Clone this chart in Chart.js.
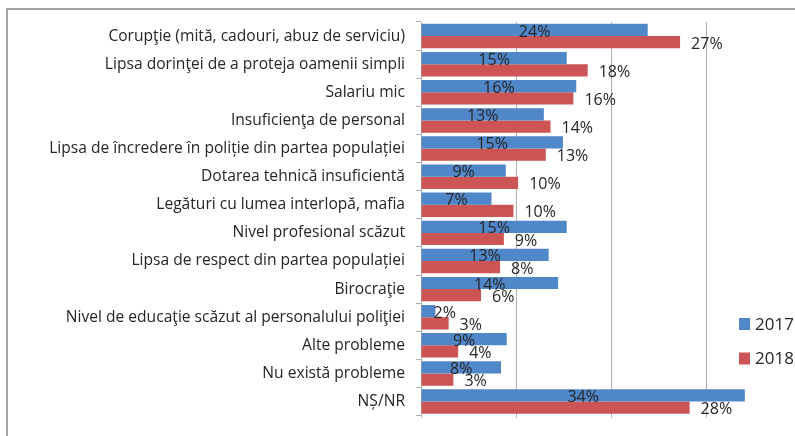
<!DOCTYPE html>
<html>
<head>
<meta charset="utf-8">
<script src="https://cdn.jsdelivr.net/npm/chart.js@4.4.0/dist/chart.umd.min.js"></script>
<style>
  html, body { margin: 0; padding: 0; background: #fff; overflow: hidden; }
  #wrap { position: relative; width: 795px; height: 436px; overflow: hidden; }
  #frame { position: absolute; left: 6px; top: 8px; width: 820px; height: 460px;
           border-left: 2px solid #a3a3a3; border-top: 2px solid #a3a3a3; }
  #chart { position: absolute; left: 0; top: 0; }
</style>
</head>
<body>
<div id="wrap">
  <div id="frame"></div>
  <canvas id="chart" width="810" height="436"></canvas>
</div>
<script>
// data (bar lengths in %, labels shown rounded)
const categories = [
    'Corupţie (mită, cadouri, abuz de serviciu)',
    'Lipsa dorinţei de a proteja oamenii simpli',
    'Salariu mic',
    'Insuficienţa de personal',
    'Lipsa de încredere în poliție din partea populației',
    'Dotarea tehnică insuficientă',
    'Legături cu lumea interlopă, mafia',
    'Nivel profesional scăzut',
    'Lipsa de respect din partea populației',
    'Birocraţie',
    'Nivel de educaţie scăzut al personalului poliţiei',
    'Alte probleme',
    'Nu există probleme',
    'NȘ/NR'
];
const values2017 = [23.8, 15.3, 16.3, 12.9, 14.9, 8.9, 7.4, 15.3, 13.4, 14.4, 1.5, 9.0, 8.4, 34.0];
const values2018 = [27.2, 17.5, 16.0, 13.6, 13.1, 10.2, 9.7, 8.7, 8.3, 6.3, 2.9, 3.9, 3.4, 28.2];
const seriesNames = ['2017', '2018'];

const blue = '#4f87c9';
const red = '#cd5454';
const textColor = '#262626';
const gridColor = '#b0b0b0';
const fontFamily = '"Open Sans"';

// value labels: 2017 centered in bar, 2018 just past the bar end
const barLabels = {
    id: 'barLabels',
    afterDatasetsDraw(chart) {
        const ctx = chart.ctx;
        ctx.save();
        ctx.font = '16px ' + fontFamily;
        ctx.fillStyle = textColor;
        ctx.textBaseline = 'middle';
        chart.data.datasets.forEach((ds, i) => {
            const meta = chart.getDatasetMeta(i);
            meta.data.forEach((bar, j) => {
                const txt = Math.round(ds.data[j]) + '%';
                const w = ctx.measureText(txt).width;
                if (i === 0) {
                    ctx.textAlign = 'center';
                    const cx = Math.max((bar.base + bar.x) / 2, bar.base + 12 + w / 2);
                    ctx.fillText(txt, cx, bar.y + 2);
                } else {
                    ctx.textAlign = 'left';
                    ctx.fillText(txt, bar.x + 11, bar.y + 2);
                }
            });
        });
        ctx.restore();
    }
};

// legend drawn over the right side, like the original
const sideLegend = {
    id: 'sideLegend',
    afterDraw(chart) {
        const ctx = chart.ctx;
        ctx.save();
        ctx.font = '17px ' + fontFamily;
        ctx.textBaseline = 'middle';
        ctx.textAlign = 'left';
        chart.data.datasets.forEach((ds, i) => {
            const y = 324 + i * 34.5;
            ctx.fillStyle = ds.backgroundColor;
            ctx.fillRect(739, y - 6, 11, 12);
            ctx.fillStyle = textColor;
            ctx.fillText(ds.label, 755, y + 1);
        });
        ctx.restore();
    }
};

const ctx = document.getElementById('chart').getContext('2d');
new Chart(ctx, {
    type: 'bar',
    data: {
        labels: categories,
        datasets: [
            { label: seriesNames[0], data: values2017, backgroundColor: blue },
            { label: seriesNames[1], data: values2018, backgroundColor: red }
        ]
    },
    options: {
        indexAxis: 'y',
        responsive: false,
        animation: false,
        devicePixelRatio: 1,
        layout: { padding: { top: 22, right: 8, bottom: 8, left: 0 } },
        datasets: {
            bar: { categoryPercentage: 0.87, barPercentage: 1.0 }
        },
        scales: {
            x: {
                min: 0,
                max: 40,
                ticks: { stepSize: 10, display: false },
                grid: { color: gridColor, drawTicks: true, tickLength: 2 },
                border: { display: false }
            },
            y: {
                grid: { drawOnChartArea: false, drawTicks: true, tickLength: 5, color: gridColor, offset: true },
                border: { display: true, color: gridColor },
                ticks: {
                    autoSkip: false,
                    padding: 11,
                    color: textColor,
                    font: { family: 'Open Sans', size: 15.6 }
                },
                afterFit: function(scale) { scale.width = 421; }
            }
        },
        plugins: {
            legend: { display: false },
            tooltip: { enabled: false }
        }
    },
    plugins: [barLabels, sideLegend]
});
</script>
</body>
</html>
